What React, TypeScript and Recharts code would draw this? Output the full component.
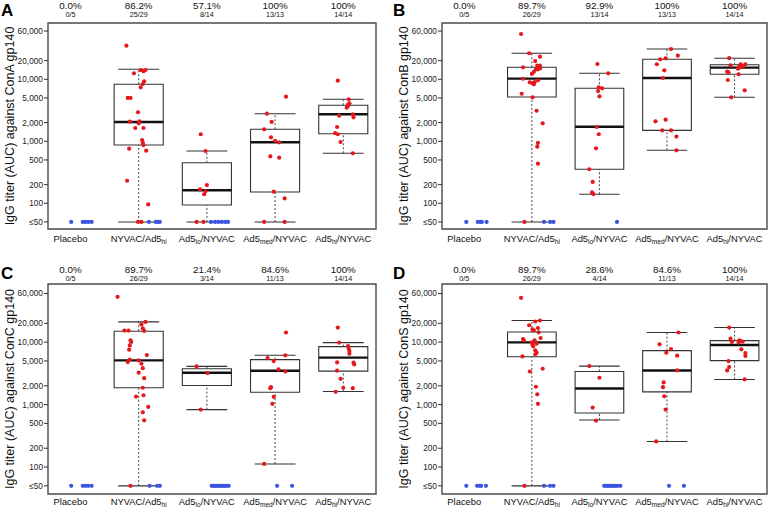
import React from "react";
import {
  ComposedChart,
  Scatter,
  XAxis,
  YAxis,
  ReferenceArea,
  ReferenceLine,
} from "recharts";

const groupNames = [
  ["Placebo", "", ""],
  ["NYVAC/Ad5", "hi", ""],
  ["Ad5", "lo", "/NYVAC"],
  ["Ad5", "med", "/NYVAC"],
  ["Ad5", "hi", "/NYVAC"],
];
const groupTicks = [1, 2, 3, 4, 5];
const yTicks = [50, 100, 200, 500, 1000, 2000, 5000, 10000, 20000, 40000, 60000];

// ---- panel A: ConA ----
const pctA = ["0.0%", "86.2%", "57.1%", "100%", "100%"];
const countA = ["0/5", "25/29", "8/14", "13/13", "14/14"];
// [group, lower whisker, q1, median, q3, upper whisker]
const boxA = [
  [2, 50, 871, 2050, 8300, 14500],
  [3, 50, 94, 162, 452, 698],
  [4, 50, 152, 963, 1560, 2785],
  [5, 640, 1326, 2725, 3810, 4760],
];
const redA = [
  [1.82, 34800], [1.93, 12500], [2.03, 14100], [2.07, 13500], [2.1, 14100], [2.08, 9300],
  [2.06, 8400], [2.03, 7430], [1.84, 5000], [1.88, 5000], [1.99, 2940], [1.87, 2070],
  [2.0, 1950], [2.01, 2100], [1.95, 1640], [2.07, 1640], [2.05, 1050], [2.06, 950],
  [2.07, 870], [1.86, 760], [2.11, 705], [1.83, 231], [2.14, 96], [1.99, 50], [2.04, 50],
  [2.91, 1300], [2.98, 698], [3.0, 197], [2.9, 168], [2.98, 156], [2.96, 140], [2.85, 50], [2.95, 50],
  [4.16, 5240], [3.88, 2785], [3.95, 2050], [3.84, 1560], [3.94, 1160], [4.0, 1020], [4.06, 963],
  [3.93, 573], [4.06, 545], [3.98, 154], [4.14, 120], [3.84, 50], [4.14, 50],
  [4.92, 9500], [5.08, 4760], [5.09, 4100], [5.07, 3900], [5.07, 3710], [5.05, 3480], [4.94, 2590],
  [5.14, 2725], [5.15, 2440], [4.91, 1700], [4.88, 1350], [4.92, 1300], [4.96, 975], [5.14, 640],
];
const blueA = [
  [1.01, 50], [1.18, 50], [1.22, 50], [1.26, 50], [1.31, 50],
  [2.15, 50], [2.25, 50], [2.28, 50], [2.31, 50],
  [3.06, 50], [3.12, 50], [3.17, 50], [3.22, 50], [3.27, 50], [3.31, 50],
];

// ---- panel B: ConB ----
const pctB = ["0.0%", "89.7%", "92.9%", "100%", "100%"];
const countB = ["0/5", "26/29", "13/14", "13/13", "14/14"];
const boxB = [
  [2, 50, 5190, 10250, 15600, 26300],
  [3, 140, 354, 1720, 7160, 12500],
  [4, 716, 1500, 10500, 21000, 30800],
  [5, 5120, 12050, 15400, 17200, 21800],
];
const redB = [
  [1.84, 53800], [1.96, 26300], [2.12, 23200], [2.05, 19700], [1.87, 15600], [2.08, 16600],
  [2.12, 16600], [2.06, 14500], [2.09, 14500], [2.12, 15000], [2.03, 13200], [2.0, 12200],
  [1.87, 10200], [2.09, 9640], [2.04, 9000], [1.97, 8940], [2.01, 8600], [2.03, 8300],
  [1.85, 5850], [2.01, 5120], [2.07, 3110], [2.16, 1950], [2.09, 940], [2.08, 820], [2.09, 435], [1.89, 50],
  [2.97, 17650], [3.13, 12500], [2.99, 7420], [3.04, 7160], [2.98, 6460], [3.0, 5320], [2.96, 1700],
  [2.99, 1300], [2.95, 770], [2.85, 354], [2.9, 221], [2.89, 150], [2.91, 141],
  [4.06, 30800], [4.16, 24000], [3.9, 21000], [3.98, 21800], [3.85, 17500], [3.96, 13960], [3.94, 10500],
  [3.83, 2100], [3.98, 2230], [3.93, 1500], [4.06, 1500], [4.14, 1190], [4.14, 716],
  [4.92, 22000], [4.94, 16800], [5.09, 17500], [5.16, 17500], [5.07, 16400], [5.12, 16000], [5.05, 14800],
  [5.08, 15600], [4.89, 13250], [4.91, 12950], [5.06, 12050], [4.9, 9750], [5.15, 6630], [4.95, 5120],
];
const blueB = [
  [1.03, 50], [1.2, 50], [1.24, 50], [1.26, 50], [1.33, 50],
  [2.18, 50], [2.27, 50], [2.32, 50],
  [3.26, 50],
];

// ---- panel C: ConC ----
const pctC = ["0.0%", "89.7%", "21.4%", "84.6%", "100%"];
const countC = ["0/5", "26/29", "3/14", "11/13", "14/14"];
const boxC = [
  [2, 50, 1860, 5100, 14960, 21100],
  [3, 831, 2020, 3240, 3750, 4090],
  [4, 112, 1580, 3490, 5240, 6150],
  [5, 1620, 3430, 5640, 8480, 9830],
];
const redC = [
  [1.69, 53200], [2.1, 21100], [2.04, 19200], [1.79, 15300], [1.85, 15300], [2.06, 16560],
  [2.08, 15140], [1.89, 10060], [1.88, 10700], [1.87, 8870], [1.86, 7580], [2.12, 6200],
  [1.84, 4790], [1.87, 5230], [2.0, 5100], [2.04, 4510], [2.06, 3830], [2.0, 3240],
  [2.08, 2650], [2.06, 1860], [1.96, 1345], [2.07, 1410], [2.14, 918], [2.06, 752], [2.08, 559], [1.88, 50],
  [2.85, 4090], [3.01, 3190], [2.91, 831],
  [4.16, 14270], [4.15, 6150], [3.89, 5560], [3.98, 4970], [4.05, 3660], [4.15, 3390],
  [3.94, 1900], [3.93, 1830], [3.98, 1330], [3.96, 1030], [3.84, 112],
  [4.92, 17130], [4.94, 9830], [5.07, 8660], [5.08, 7870], [5.09, 7200], [5.09, 6530], [4.91, 4740],
  [5.15, 4690], [5.16, 4400], [4.91, 3490], [4.96, 2590], [5.0, 1860], [4.89, 1600], [5.14, 1830],
];
const blueC = [
  [1.01, 50], [1.18, 50], [1.22, 50], [1.26, 50], [1.31, 50],
  [2.16, 50], [2.27, 50], [2.31, 50],
  [3.07, 50], [3.1, 50], [3.12, 50], [3.14, 50], [3.17, 50], [3.19, 50], [3.21, 50],
  [3.24, 50], [3.26, 50], [3.29, 50], [3.32, 50],
  [4.03, 50], [4.25, 50],
];

// ---- panel D: ConS ----
const pctD = ["0.0%", "89.7%", "28.6%", "84.6%", "100%"];
const countD = ["0/5", "26/29", "4/14", "11/13", "14/14"];
const boxD = [
  [2, 50, 5850, 9900, 14560, 22200],
  [3, 567, 735, 1810, 3390, 4130],
  [4, 257, 1600, 3520, 7300, 14270],
  [5, 2525, 5050, 9000, 10580, 17130],
];
const redD = [
  [1.84, 51300], [2.05, 21400], [2.12, 22200], [1.96, 18640], [2.09, 16850], [2.01, 16060],
  [2.03, 15500], [2.1, 14350], [2.13, 11650], [1.87, 11200], [1.88, 10700], [2.04, 10700],
  [2.0, 9900], [2.07, 9450], [2.01, 9000], [2.02, 8570], [2.05, 7400], [2.07, 6790],
  [2.05, 6380], [1.86, 5900], [2.16, 3750], [1.97, 3390], [2.06, 1930], [2.08, 1460], [2.09, 1030], [1.89, 50],
  [2.85, 4130], [3.0, 2690], [2.9, 895], [2.95, 553],
  [4.17, 14270], [3.89, 9240], [4.06, 7760], [3.99, 6790], [4.15, 6070], [4.15, 3520],
  [3.95, 2260], [3.94, 1900], [3.96, 1360], [3.98, 831], [3.84, 257],
  [4.92, 17130], [4.94, 11400], [4.96, 10060], [5.07, 10700], [5.09, 10430], [5.12, 10200], [5.06, 9900],
  [5.1, 7660], [5.16, 6700], [5.16, 6000], [4.91, 4970], [4.92, 3980], [4.89, 3520], [5.15, 2525],
];
const blueD = [
  [1.03, 50], [1.19, 50], [1.23, 50], [1.25, 50], [1.32, 50],
  [2.18, 50], [2.27, 50], [2.32, 50],
  [3.07, 50], [3.09, 50], [3.12, 50], [3.14, 50], [3.17, 50], [3.19, 50], [3.21, 50],
  [3.24, 50], [3.27, 50], [3.31, 50],
  [4.03, 50], [4.25, 50],
];

const X_DOMAIN = [0.67, 5.48];
const BOX_HALF = 0.36;
const CAP_HALF = 0.3;
const RED = "#e3191c";
const BLUE = "#3b55e0";
const FONT = "'Liberation Sans', Arial, Helvetica, sans-serif";

const toPts = (arr: number[][]) => arr.map(([x, y]) => ({ x, y }));
const fmtY = (v: number) => (v === 50 ? "≤50" : v.toLocaleString("en-US"));

function dot(color: string) {
  return (p: any) => <circle cx={p.cx} cy={p.cy} r={2.1} fill={color} />;
}

function Panel(props: any) {
  const {
    antigen, pct, counts, boxes, red, blue,
    left, top, width, height, topH, bottomH, marginRight, yDomain,
    pctY, countY, labelDy,
  } = props;
  const plotBottom = height - bottomH;

  const topTick = (p: any) => {
    const i = p.payload.value - 1;
    return (
      <g>
        <text x={p.x} y={pctY} textAnchor="middle" fontSize={9.8} fill="#111">{pct[i]}</text>
        <text x={p.x} y={countY} textAnchor="middle" fontSize={7.2} fill="#111">{counts[i]}</text>
      </g>
    );
  };
  const bottomTick = (p: any) => {
    const [a, sub, tail] = groupNames[p.payload.value - 1];
    return (
      <text x={p.x} y={plotBottom + labelDy} textAnchor="middle" fontSize={9.4} fill="#111">
        <tspan>{a}</tspan>
        {sub ? <tspan fontSize={6.6} dy={2}>{sub}</tspan> : null}
        {tail ? <tspan dy={-2}>{tail}</tspan> : null}
      </text>
    );
  };

  return (
    <div style={{ position: "absolute", left, top, width, height }}>
      <ComposedChart
        width={width}
        height={height}
        margin={{ top: 0, right: marginRight, bottom: 0, left: 0 }}
      >
        <XAxis
          xAxisId="top"
          orientation="top"
          dataKey="x"
          type="number"
          domain={X_DOMAIN}
          allowDataOverflow
          ticks={groupTicks}
          height={topH}
          axisLine={false}
          tickLine={false}
          tick={topTick}
        />
        <XAxis
          dataKey="x"
          type="number"
          domain={X_DOMAIN}
          allowDataOverflow
          ticks={groupTicks}
          height={bottomH}
          axisLine={false}
          tickLine={false}
          tick={bottomTick}
        />
        <YAxis
          dataKey="y"
          type="number"
          scale="log"
          domain={yDomain}
          allowDataOverflow
          ticks={yTicks}
          width={48}
          axisLine={false}
          tickSize={4}
          tickMargin={1}
          tickLine={{ stroke: "#333" }}
          tick={{ fontSize: 8.3, fill: "#222" }}
          tickFormatter={fmtY}
          label={{
            value: `IgG titer (AUC) against ${antigen} gp140`,
            angle: -90,
            position: "insideLeft",
            offset: 10,
            style: { textAnchor: "middle", fontSize: 12.5, fill: "#111" },
          }}
        />
        <ReferenceArea
          x1={X_DOMAIN[0]}
          x2={X_DOMAIN[1]}
          y1={yDomain[0]}
          y2={yDomain[1]}
          fill="none"
          stroke="#4a4a4a"
          strokeWidth={1.4}
        />
        {boxes.map(([g, lo, q1, med, q3, hi]: number[]) => (
          <React.Fragment key={`b${g}`}>
            <ReferenceLine
              segment={[{ x: g, y: q3 }, { x: g, y: hi }]}
              stroke="#444"
              strokeDasharray="2 2"
            />
            <ReferenceLine
              segment={[{ x: g, y: lo }, { x: g, y: q1 }]}
              stroke="#444"
              strokeDasharray="2 2"
            />
            <ReferenceLine
              segment={[{ x: g - CAP_HALF, y: hi }, { x: g + CAP_HALF, y: hi }]}
              stroke="#333"
              strokeWidth={1.1}
            />
            <ReferenceLine
              segment={[{ x: g - CAP_HALF, y: lo }, { x: g + CAP_HALF, y: lo }]}
              stroke="#333"
              strokeWidth={1.1}
            />
            <ReferenceArea
              x1={g - BOX_HALF}
              x2={g + BOX_HALF}
              y1={q1}
              y2={q3}
              fill="#fff"
              fillOpacity={1}
              stroke="#333"
              strokeWidth={1.1}
            />
            <ReferenceLine
              segment={[{ x: g - BOX_HALF, y: med }, { x: g + BOX_HALF, y: med }]}
              stroke="#111"
              strokeWidth={2.4}
            />
          </React.Fragment>
        ))}
        <Scatter data={toPts(red)} fill={RED} shape={dot(RED)} isAnimationActive={false} />
        <Scatter data={toPts(blue)} fill={BLUE} shape={dot(BLUE)} isAnimationActive={false} />
      </ComposedChart>
    </div>
  );
}

const letterStyle: React.CSSProperties = {
  position: "absolute",
  fontWeight: "bold",
  fontSize: 17,
  lineHeight: "19px",
};

export default function App() {
  const topRow = { top: 0, height: 255, topH: 23, bottomH: 26, yDomain: [38.5, 80900], pctY: 9, countY: 16.7, labelDy: 12.7 };
  const botRow = { top: 261, height: 249, topH: 23, bottomH: 16, yDomain: [37, 85300], pctY: 11.8, countY: 19.5, labelDy: 10.5 };
  return (
    <div
      style={{
        position: "fixed",
        left: 0,
        top: 0,
        width: 769,
        height: 510,
        overflow: "hidden",
        background: "#fff",
        fontFamily: FONT,
      }}
    >
      <Panel {...topRow} left={0} width={384} marginRight={8} antigen="ConA"
        pct={pctA} counts={countA} boxes={boxA} red={redA} blue={blueA} />
      <Panel {...topRow} left={394} width={375} marginRight={2} antigen="ConB"
        pct={pctB} counts={countB} boxes={boxB} red={redB} blue={blueB} />
      <Panel {...botRow} left={0} width={384} marginRight={8} antigen="ConC"
        pct={pctC} counts={countC} boxes={boxC} red={redC} blue={blueC} />
      <Panel {...botRow} left={394} width={375} marginRight={2} antigen="ConS"
        pct={pctD} counts={countD} boxes={boxD} red={redD} blue={blueD} />
      <div style={{ ...letterStyle, left: 1, top: 1 }}>A</div>
      <div style={{ ...letterStyle, left: 393, top: 1 }}>B</div>
      <div style={{ ...letterStyle, left: 1, top: 264 }}>C</div>
      <div style={{ ...letterStyle, left: 393, top: 264 }}>D</div>
    </div>
  );
}
